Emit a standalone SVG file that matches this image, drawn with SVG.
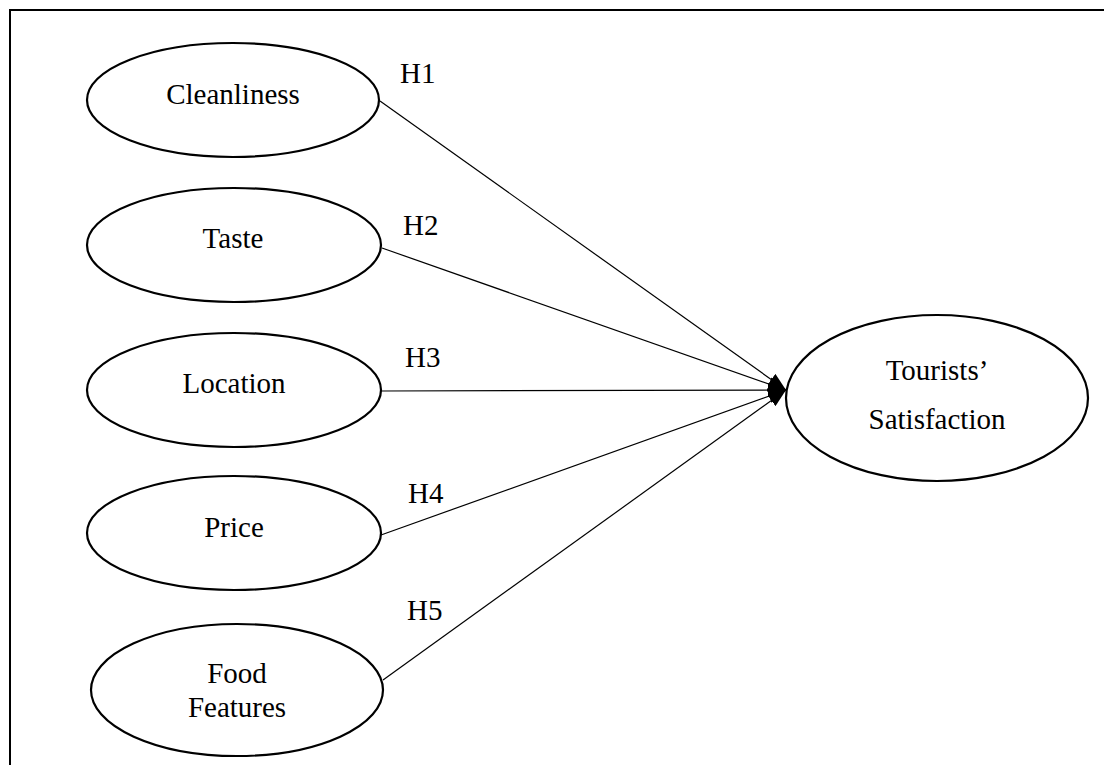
<svg xmlns="http://www.w3.org/2000/svg" width="1104" height="765" viewBox="0 0 1104 765">
<style>
.node ellipse{fill:#fff;stroke:#000;stroke-width:2.2}
text{font-family:"Liberation Serif","Times New Roman",serif;font-size:29px;fill:#000;text-anchor:middle}
.lbl{text-anchor:start}
.edge{stroke:#000;stroke-width:1.2;fill:none;marker-end:url(#arr)}
</style>
<defs>
<marker id="arr" viewBox="0 0 18 14" refX="18" refY="7" markerWidth="18" markerHeight="14" markerUnits="userSpaceOnUse" orient="auto">
<path d="M0,0 L18,7 L0,14 z" fill="#000"/>
</marker>
</defs>
<rect x="0" y="0" width="1104" height="765" fill="#fff"/>
<rect x="10" y="10" width="1200" height="900" fill="none" stroke="#000" stroke-width="2"/>
<g id="connectors">
<line class="edge" x1="380" y1="101" x2="786" y2="390"/>
<line class="edge" x1="382" y1="248" x2="786" y2="390"/>
<line class="edge" x1="381" y1="391" x2="786" y2="390"/>
<line class="edge" x1="381" y1="535" x2="786" y2="390"/>
<line class="edge" x1="383" y1="680" x2="786" y2="390"/>
<text class="lbl" x="400" y="83">H1</text>
<text class="lbl" x="403" y="235">H2</text>
<text class="lbl" x="405" y="367">H3</text>
<text class="lbl" x="408" y="503">H4</text>
<text class="lbl" x="407" y="620">H5</text>
</g>
<g id="cleanliness" class="node"><ellipse cx="233" cy="100" rx="146" ry="57"/><text x="233" y="104">Cleanliness</text></g>
<g id="taste" class="node"><ellipse cx="234" cy="245" rx="147" ry="57"/><text x="233" y="248">Taste</text></g>
<g id="location" class="node"><ellipse cx="234" cy="390" rx="147" ry="57"/><text x="234" y="393">Location</text></g>
<g id="price" class="node"><ellipse cx="234" cy="533" rx="147" ry="57"/><text x="234" y="537">Price</text></g>
<g id="food-features" class="node"><ellipse cx="237" cy="690" rx="146" ry="66"/><text x="237" y="683">Food</text><text x="237" y="717">Features</text></g>
<g id="tourists-satisfaction" class="node"><ellipse cx="937" cy="398" rx="151" ry="83"/><text x="937" y="380">Tourists’</text><text x="937" y="429">Satisfaction</text></g>
</svg>
